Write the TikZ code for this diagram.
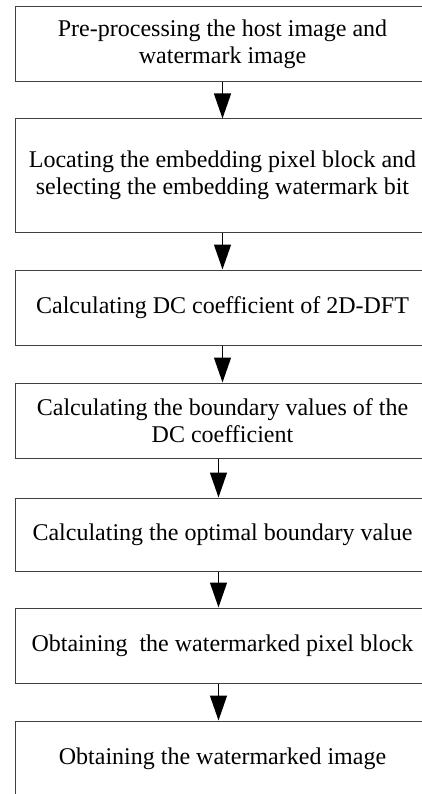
\documentclass[tikz,border=0pt]{standalone}
\usepackage{fontspec}
\setmainfont{Liberation Serif}
\usetikzlibrary{arrows.meta}
\begin{document}
\begin{tikzpicture}[x=1pt,y=-1pt,
  box/.style={draw=black!75, line width=1pt, minimum width=415pt, inner sep=0pt,
    align=center, font=\fontsize{24}{27}\selectfont, text=black},
  arr/.style={line width=1.3pt, -{Triangle[width=17pt,length=25pt]}, shorten >=0pt}]
\useasboundingbox (0,0) rectangle (422,794);
\clip (0,0) rectangle (422,794);
\node[box, minimum height=75pt] (b1) at (222.5,44.5) {Pre-processing the host image and\\watermark image};
\node[box, minimum height=113pt] (b2) at (222.5,175.5) {Locating the embedding pixel block and\\selecting the embedding watermark bit};
\node[box, minimum height=75pt] (b3) at (222.5,307.5) {Calculating DC coefficient of 2D-DFT};
\node[box, minimum height=75pt] (b4) at (222.5,420.5) {Calculating the boundary values of the\\DC coefficient};
\node[box, minimum height=73pt] (b5) at (222.5,534.5) {Calculating the optimal boundary value};
\node[box, minimum height=75pt] (b6) at (222.5,645.5) {Obtaining\ \ the watermarked pixel block};
\node[box, minimum height=76pt] (b7) at (222.5,759) {Obtaining the watermarked image};
\draw[arr] (b1.south) -- (b2.north);
\draw[arr] (b2.south) -- (b3.north);
\draw[arr] (b3.south) -- (b4.north);
\draw[arr] ([xshift=-4pt]b4.south) -- ([xshift=-4pt]b5.north);
\draw[arr] ([xshift=-4pt]b5.south) -- ([xshift=-4pt]b6.north);
\draw[arr] ([xshift=-4pt]b6.south) -- ([xshift=-4pt]b7.north);
\end{tikzpicture}
\end{document}
